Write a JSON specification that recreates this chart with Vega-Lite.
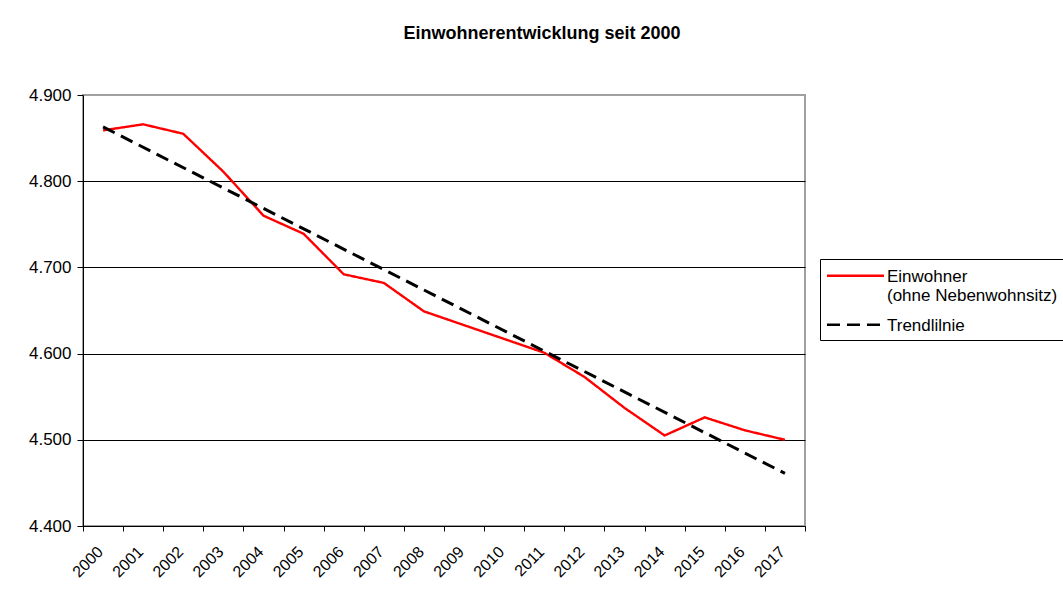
{
  "$schema": "https://vega.github.io/schema/vega-lite/v6.json",
  "width": 722,
  "height": 431,
  "autosize": {"type": "none"},
  "padding": {"left": 83, "top": 95, "right": 258, "bottom": 67},
  "background": "white",
  "title": {
    "text": "Einwohnerentwicklung seit 2000",
    "font": "Liberation Sans",
    "fontSize": 18,
    "fontWeight": "bold",
    "color": "black",
    "anchor": "middle",
    "dx": 98,
    "offset": 29,
    "baseline": "alphabetic"
  },
  "datasets": {
    "einwohner": [
      {"year": 2000, "value": 4859},
      {"year": 2001, "value": 4866},
      {"year": 2002, "value": 4855},
      {"year": 2003, "value": 4811},
      {"year": 2004, "value": 4760},
      {"year": 2005, "value": 4739},
      {"year": 2006, "value": 4692},
      {"year": 2007, "value": 4682},
      {"year": 2008, "value": 4649},
      {"year": 2009, "value": 4633},
      {"year": 2010, "value": 4617},
      {"year": 2011, "value": 4601},
      {"year": 2012, "value": 4573},
      {"year": 2013, "value": 4537},
      {"year": 2014, "value": 4505},
      {"year": 2015, "value": 4526},
      {"year": 2016, "value": 4511},
      {"year": 2017, "value": 4500}
    ],
    "trend": [
      {"year": 2000, "value": 4863},
      {"year": 2017, "value": 4461}
    ]
  },
  "encoding": {
    "x": {
      "field": "year",
      "type": "ordinal",
      "bandPosition": 0.5,
      "scale": {"type": "band", "paddingInner": 0, "paddingOuter": 0},
      "axis": {
        "title": null,
        "labelAngle": -45,
        "labelAlign": "right",
        "labelBaseline": "middle",
        "tickBand": "extent",
        "grid": false,
        "domainColor": "black",
        "tickColor": "black",
        "tickSize": 5,
        "labelPadding": 18,
        "labelOffset": -3,
        "labelFont": "Liberation Sans",
        "labelFontSize": 16,
        "labelColor": "black"
      }
    },
    "y": {
      "field": "value",
      "type": "quantitative",
      "scale": {"domain": [4400, 4900], "nice": false, "zero": false},
      "axis": {
        "title": null,
        "values": [4400, 4500, 4600, 4700, 4800, 4900],
        "labelExpr": "replace(format(datum.value, ','), ',', '.')",
        "grid": true,
        "gridColor": {"condition": {"test": "datum.value == 4900", "value": "#a0a0a0"}, "value": "black"},
        "gridWidth": 1,
        "domainColor": "black",
        "tickColor": "black",
        "tickSize": 6,
        "labelPadding": 6,
        "labelFont": "Liberation Sans",
        "labelFontSize": 17,
        "labelColor": "black"
      }
    }
  },
  "layer": [
    {
      "data": {"name": "einwohner"},
      "mark": {"type": "line", "strokeWidth": 2.4},
      "encoding": {
        "color": {
          "datum": "Einwohner|(ohne Nebenwohnsitz)",
          "type": "nominal",
          "scale": {"domain": ["Einwohner|(ohne Nebenwohnsitz)", "Trendlilnie"], "range": ["#ff0000", "#000000"]},
          "legend": {"labelExpr": "split(datum.label, '|')", "title": " "}
        },
        "strokeDash": {
          "datum": "Einwohner|(ohne Nebenwohnsitz)",
          "type": "nominal",
          "scale": {"domain": ["Einwohner|(ohne Nebenwohnsitz)", "Trendlilnie"], "range": [[1, 0], [13, 7]]},
          "legend": {"labelExpr": "split(datum.label, '|')", "title": " "}
        }
      }
    },
    {
      "data": {"name": "trend"},
      "mark": {"type": "line", "strokeWidth": 3},
      "encoding": {
        "color": {"datum": "Trendlilnie", "type": "nominal"},
        "strokeDash": {"datum": "Trendlilnie", "type": "nominal"}
      }
    }
  ],
  "config": {
    "view": {"stroke": "#a0a0a0", "strokeWidth": 2},
    "legend": {
      "orient": "none",
      "legendX": 737,
      "legendY": 164,
      "titleFontSize": 7,
      "titlePadding": 1,
      "strokeColor": "black",
      "padding": 6,
      "symbolType": "M-4,-0.8H4",
      "symbolSize": 203,
      "symbolStrokeWidth": 2.5,
      "symbolOffset": 21,
      "labelFont": "Liberation Sans",
      "labelFontSize": 17,
      "labelBaseline": "alphabetic",
      "labelColor": "black",
      "labelOffset": 23,
      "labelLimit": 400,
      "rowPadding": 12
    }
  }
}
